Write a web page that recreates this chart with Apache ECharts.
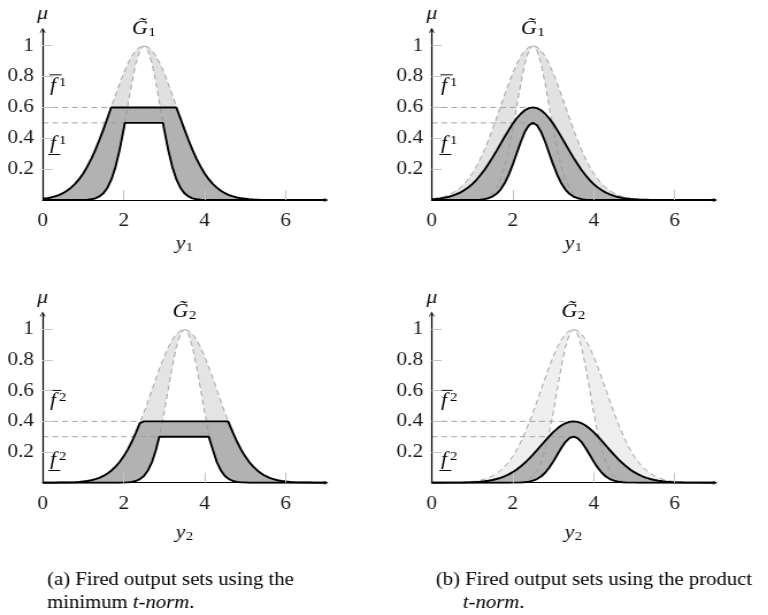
<!DOCTYPE html>
<html>
<head>
<meta charset="utf-8">
<script src="https://cdn.jsdelivr.net/npm/echarts@6/dist/echarts.min.js"></script>
<style>
html, body { margin: 0; padding: 0; background: #fff; overflow: hidden; }
/* the source figure is a little stretched sideways, so draw narrow and stretch */
#chart { width: 668px; height: 615px; transform: scaleX(1.15); transform-origin: 0 0; }
</style>
</head>
<body>
<div id="chart"></div>
<script>
// sample points on y (0 .. 7)
const xs = [
  0, 0.1, 0.2, 0.3, 0.4, 0.5, 0.6, 0.7, 0.8, 0.9,
  1, 1.1, 1.2, 1.3, 1.4, 1.5, 1.6, 1.7, 1.8, 1.9,
  2, 2.1, 2.2, 2.3, 2.4, 2.5, 2.6, 2.7, 2.8, 2.9,
  3, 3.1, 3.2, 3.3, 3.4, 3.5, 3.6, 3.7, 3.8, 3.9,
  4, 4.1, 4.2, 4.3, 4.4, 4.5, 4.6, 4.7, 4.8, 4.9,
  5, 5.1, 5.2, 5.3, 5.4, 5.5, 5.6, 5.7, 5.8, 5.9,
  6, 6.1, 6.2, 6.3, 6.4, 6.5, 6.6, 6.7, 6.8, 6.9, 7
];
// G1 upper / lower membership
const upper1 = [
  .008, .011, .016, .023, .032, .044, .060, .080, .105, .135,
  .172, .216, .267, .325, .389, .458, .531, .607, .682, .755,
  .823, .883, .932, .969, .992, 1, .992, .969, .932, .883,
  .823, .755, .682, .607, .531, .458, .389, .325, .267, .216,
  .172, .135, .105, .080, .060, .044, .032, .023, .016, .011,
  .008, .005, .003, .002, .001, .001, .001, 0, 0, 0,
  0, 0, 0, 0, 0, 0, 0, 0, 0, 0, 0
];
const lower1 = [
  0, 0, 0, 0, 0, 0, 0, 0, 0, 0,
  .001, .002, .005, .011, .023, .044, .080, .135, .216, .325,
  .458, .607, .755, .883, .969, 1, .969, .883, .755, .607,
  .458, .325, .216, .135, .080, .044, .023, .011, .005, .002,
  .001, 0, 0, 0, 0, 0, 0, 0, 0, 0,
  0, 0, 0, 0, 0, 0, 0, 0, 0, 0,
  0, 0, 0, 0, 0, 0, 0, 0, 0, 0, 0
];
// G2 upper / lower membership
const upper2 = [
  0, 0, 0, 0, .001, .001, .001, .002, .003, .005,
  .008, .011, .016, .023, .032, .044, .060, .080, .105, .135,
  .172, .216, .267, .325, .389, .458, .531, .607, .682, .755,
  .823, .883, .932, .969, .992, 1, .992, .969, .932, .883,
  .823, .755, .682, .607, .531, .458, .389, .325, .267, .216,
  .172, .135, .105, .080, .060, .044, .032, .023, .016, .011,
  .008, .005, .003, .002, .001, .001, .001, 0, 0, 0, 0
];
const lower2 = [
  0, 0, 0, 0, 0, 0, 0, 0, 0, 0,
  0, 0, 0, 0, 0, 0, 0, 0, 0, 0,
  .001, .002, .005, .011, .023, .044, .080, .135, .216, .325,
  .458, .607, .755, .883, .969, 1, .969, .883, .755, .607,
  .458, .325, .216, .135, .080, .044, .023, .011, .005, .002,
  .001, 0, 0, 0, 0, 0, 0, 0, 0, 0,
  0, 0, 0, 0, 0, 0, 0, 0, 0, 0, 0
];
// firing strengths [upper, lower]
const fire1 = [0.6, 0.5];
const fire2 = [0.4, 0.3];
// where the min t-norm cuts the MFs
const cut1 = { upper: [1.69, 3.31], lower: [2.03, 2.97] };
const cut2 = { upper: [2.42, 4.58], lower: [2.88, 4.12] };
const peaks = [2.5, 3.5];
const xTicks = [2, 4, 6];
const xLabels = [0, 2, 4, 6];
const yTicks = [0.2, 0.4, 0.6, 0.8, 1];

const FONT = 'Liberation Serif';
const ARROW = 'path://M0,10 L5,0 L10,10 L8.4,10 L5,3.2 L1.6,10 Z';

function pairs(vals) {
  return xs.map((x, i) => [x, vals[i]]);
}
function clipped(vals, level, cuts) {
  const pts = xs.map((x, i) => [x, Math.min(vals[i], level)]);
  cuts.forEach(c => pts.push([c, level]));
  return pts.sort((a, b) => a[0] - b[0]);
}
function scaled(vals, level) {
  return xs.map((x, i) => [x, vals[i] * level]);
}

const grids = [
  { left: 37.1, top: 30.3, width: 246.5, height: 169.7 },
  { left: 375.4, top: 30.3, width: 246.5, height: 169.7 },
  { left: 37.1, top: 314, width: 246.5, height: 168.7 },
  { left: 375.4, top: 314, width: 246.5, height: 168.7 }
];

const panels = [
  { upper: upper1, lower: lower1, up: clipped(upper1, fire1[0], cut1.upper), lo: clipped(lower1, fire1[1], cut1.lower),
    levels: fire1, ends: [cut1.upper[0], cut1.lower[0]], peak: peaks[0], k: '1', light: '#e0e0e0', gap: 34 },
  { upper: upper1, lower: lower1, up: scaled(upper1, fire1[0]), lo: scaled(lower1, fire1[1]),
    levels: fire1, ends: [peaks[0], peaks[0]], peak: peaks[0], k: '1', light: '#e2e2e2', gap: 34 },
  { upper: upper2, lower: lower2, up: clipped(upper2, fire2[0], cut2.upper), lo: clipped(lower2, fire2[1], cut2.lower),
    levels: fire2, ends: [cut2.upper[0], cut2.lower[0]], peak: peaks[1], k: '2', light: '#e4e4e4', gap: 40 },
  { upper: upper2, lower: lower2, up: scaled(upper2, fire2[0]), lo: scaled(lower2, fire2[1]),
    levels: fire2, ends: [peaks[1], peaks[1]], peak: peaks[1], k: '2', light: '#eeeeee', gap: 40 }
];

const tickLabel = { fontFamily: FONT, fontSize: 18.5, color: '#1a1a1a' };
const subRich = {
  i: { fontFamily: FONT, fontSize: 19, fontStyle: 'italic', lineHeight: 20, color: '#111' },
  s: { fontFamily: FONT, fontSize: 13, lineHeight: 9, verticalAlign: 'bottom', color: '#111', padding: [0, 0, 0, 0.5] }
};

const xAxes = [], yAxes = [], series = [];
panels.forEach((p, g) => {
  xAxes.push({
    gridIndex: g, type: 'value', min: 0, max: 7, z: 10,
    name: '{i|y}{s|' + p.k + '}', nameLocation: 'middle', nameGap: p.gap,
    nameTextStyle: { rich: subRich },
    axisLine: { show: true, lineStyle: { color: '#000', width: 1.2 }, symbol: ['none', ARROW], symbolSize: [7, 4] },
    axisTick: { show: true, inside: true, length: 10, customValues: xTicks, lineStyle: { color: '#c4c4c4', width: 1 } },
    axisLabel: Object.assign({ customValues: xLabels, margin: 12 }, tickLabel),
    splitLine: { show: false }
  });
  yAxes.push({
    gridIndex: g, type: 'value', min: 0, max: 1.1, z: 10,
    name: 'μ', nameLocation: 'end', nameGap: 7,
    nameTextStyle: { fontFamily: FONT, fontSize: 19, fontStyle: 'italic', color: '#111' },
    axisLine: { show: true, lineStyle: { color: '#000', width: 1.2 }, symbol: ['none', ARROW], symbolSize: [5.5, 5] },
    axisTick: { show: true, inside: true, length: 8.7, customValues: yTicks, lineStyle: { color: '#c4c4c4', width: 1 } },
    axisLabel: Object.assign({ customValues: yTicks, margin: 7.5 }, tickLabel),
    splitLine: { show: false }
  });
  const base = { type: 'line', xAxisIndex: g, yAxisIndex: g, symbol: 'none', silent: true, animation: false };
  const fill = (data, color, z) => Object.assign({}, base, { data, z, lineStyle: { width: 0 }, areaStyle: { color, opacity: 1 } });
  const dash = (data, z) => Object.assign({}, base, { data, z, lineStyle: { color: '#9a9a9a', width: 0.9, type: [5, 3.5] } });
  series.push(
    fill(pairs(p.upper), p.light, 1),
    fill(pairs(p.lower), '#fff', 2),
    fill(p.up, '#b2b2b2', 3),
    fill(p.lo, '#fff', 4),
    dash(pairs(p.upper), 5),
    dash(pairs(p.lower), 5),
    dash([[0, p.levels[0]], [p.ends[0], p.levels[0]]], 5),
    dash([[0, p.levels[1]], [p.ends[1], p.levels[1]]], 5),
    Object.assign({}, base, { data: p.up, z: 6, lineStyle: { color: '#000', width: 1.9 } }),
    Object.assign({}, base, { data: p.lo, z: 6, lineStyle: { color: '#000', width: 1.9 } })
  );
});

const chart = echarts.init(document.getElementById('chart'), null, { renderer: 'canvas' });
chart.setOption({
  animation: false,
  backgroundColor: '#fff',
  textStyle: { fontFamily: FONT },
  grid: grids,
  xAxis: xAxes,
  yAxis: yAxes,
  series: series
});

// annotations: set names and firing levels
const px = (g, pt) => chart.convertToPixel({ gridIndex: g }, pt);
const supRich = {
  f: { fontFamily: FONT, fontSize: 19, fontStyle: 'italic', lineHeight: 20, color: '#111' },
  t: { fontFamily: FONT, fontSize: 13, lineHeight: 9, verticalAlign: 'top', color: '#111', padding: [0, 0, 0, 2.5] }
};
const graphic = [];
panels.forEach((p, g) => {
  const c = px(g, [p.peak, 1.11]);
  graphic.push({ type: 'text', x: c[0], y: c[1], style: { text: '{i|G\u0303}{s|' + p.k + '}', rich: subRich, align: 'center', verticalAlign: 'middle' } });
  const fx = g % 2 === 0 ? 0.18 : 0.23;
  const hiY = g < 2 ? 0.74 : 0.53;
  const loY = g < 2 ? 0.363 : 0.148;
  const hi = px(g, [fx, hiY]);
  const lo = px(g, [fx, loY]);
  graphic.push(
    { type: 'text', x: hi[0], y: hi[1], style: { text: '{f|f}{t|' + p.k + '}', rich: supRich, align: 'left', verticalAlign: 'middle' } },
    { type: 'text', x: lo[0], y: lo[1], style: { text: '{f|f}{t|' + p.k + '}', rich: supRich, align: 'left', verticalAlign: 'middle' } },
    { type: 'line', shape: { x1: hi[0] - 0.5, y1: hi[1] - 11, x2: hi[0] + 10, y2: hi[1] - 11 }, style: { stroke: '#111', lineWidth: 1 } },
    { type: 'line', shape: { x1: lo[0] - 1.5, y1: lo[1] + 10.5, x2: lo[0] + 9, y2: lo[1] + 10.5 }, style: { stroke: '#111', lineWidth: 1 } }
  );
});
const capRich = {
  n: { fontFamily: FONT, fontSize: 18, color: '#111' },
  i: { fontFamily: FONT, fontSize: 18, fontStyle: 'italic', color: '#111' }
};
graphic.push(
  { type: 'text', x: 40.9, y: 580, style: { text: '{n|(a) Fired output sets using the}', rich: capRich, verticalAlign: 'middle' } },
  { type: 'text', x: 40.9, y: 603, style: { text: '{n|minimum }{i|t-norm}{n|.}', rich: capRich, verticalAlign: 'middle' } },
  { type: 'text', x: 379.1, y: 580, style: { text: '{n|(b) Fired output sets using the product}', rich: capRich, verticalAlign: 'middle' } },
  { type: 'text', x: 402.6, y: 603, style: { text: '{i|t-norm}{n|.}', rich: capRich, verticalAlign: 'middle' } }
);
chart.setOption({ graphic: graphic });
</script>
</body>
</html>
